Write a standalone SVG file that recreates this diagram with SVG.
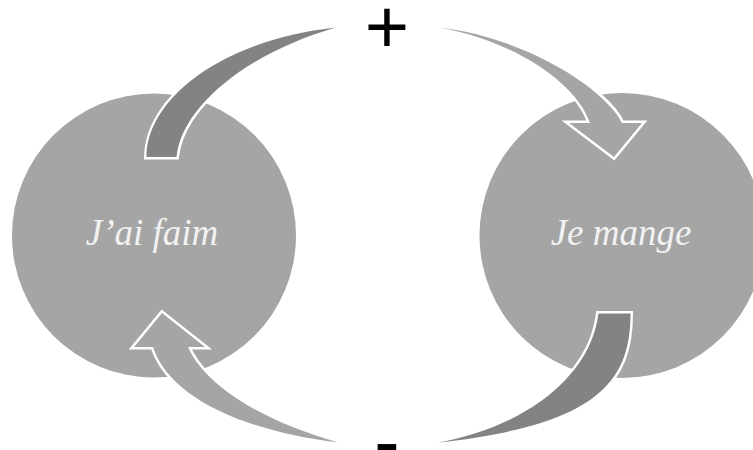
<svg xmlns="http://www.w3.org/2000/svg" width="753" height="450" viewBox="0 0 753 450">
  <style>
    .node { fill: #a5a5a5; }
    .label { font-family: "Liberation Serif", "Times New Roman", serif; font-style: italic; font-size: 37px; fill: #f2f2f2; text-anchor: middle; }
    .sign { font-family: "Liberation Sans", Arial, sans-serif; font-size: 76px; fill: #000000; text-anchor: middle; }
    .arrow-dark { fill: #838383; stroke: #ffffff; stroke-width: 5; stroke-linejoin: miter; paint-order: stroke; }
    .arrow-light { fill: #a5a5a5; stroke: #ffffff; stroke-width: 5; stroke-linejoin: miter; paint-order: stroke; }
  </style>
  <rect width="753" height="450" fill="#ffffff"/>
  <g id="node-jai-faim">
    <circle class="node" cx="154" cy="235.5" r="142"/>
  </g>
  <g id="node-je-mange">
    <circle class="node" cx="622" cy="235.5" r="142.5"/>
  </g>
  <g id="connectors">
    <path class="arrow-dark" d="M146.5,157 C146.5,100 220,40 336,27.5 C250,52 182,105 176.5,157 Z"/>
    <path class="arrow-light" d="M439,27.5 C510,40 575,80 590,123 L569,123 L614,157 L642,123 L622,123 C608,92 530,38 439,27.5 Z"/>
    <path class="arrow-dark" d="M598.5,313.5 L630.5,313.5 C630.5,380 600,425 438,442.5 C520,428 590,380 598.5,313.5 Z"/>
    <path class="arrow-light" d="M338,442.5 C250,432 170,400 153,347 L134,347 L162,313 L205,347 L188,347 C205,385 260,420 338,442.5 Z"/>
  </g>
  <g id="labels">
    <text class="label" x="152" y="245">J’ai faim</text>
    <text class="label" x="621" y="245">Je mange</text>
    <text class="sign" x="387" y="53">+</text>
    <text class="sign" x="387" y="467">-</text>
  </g>
</svg>
